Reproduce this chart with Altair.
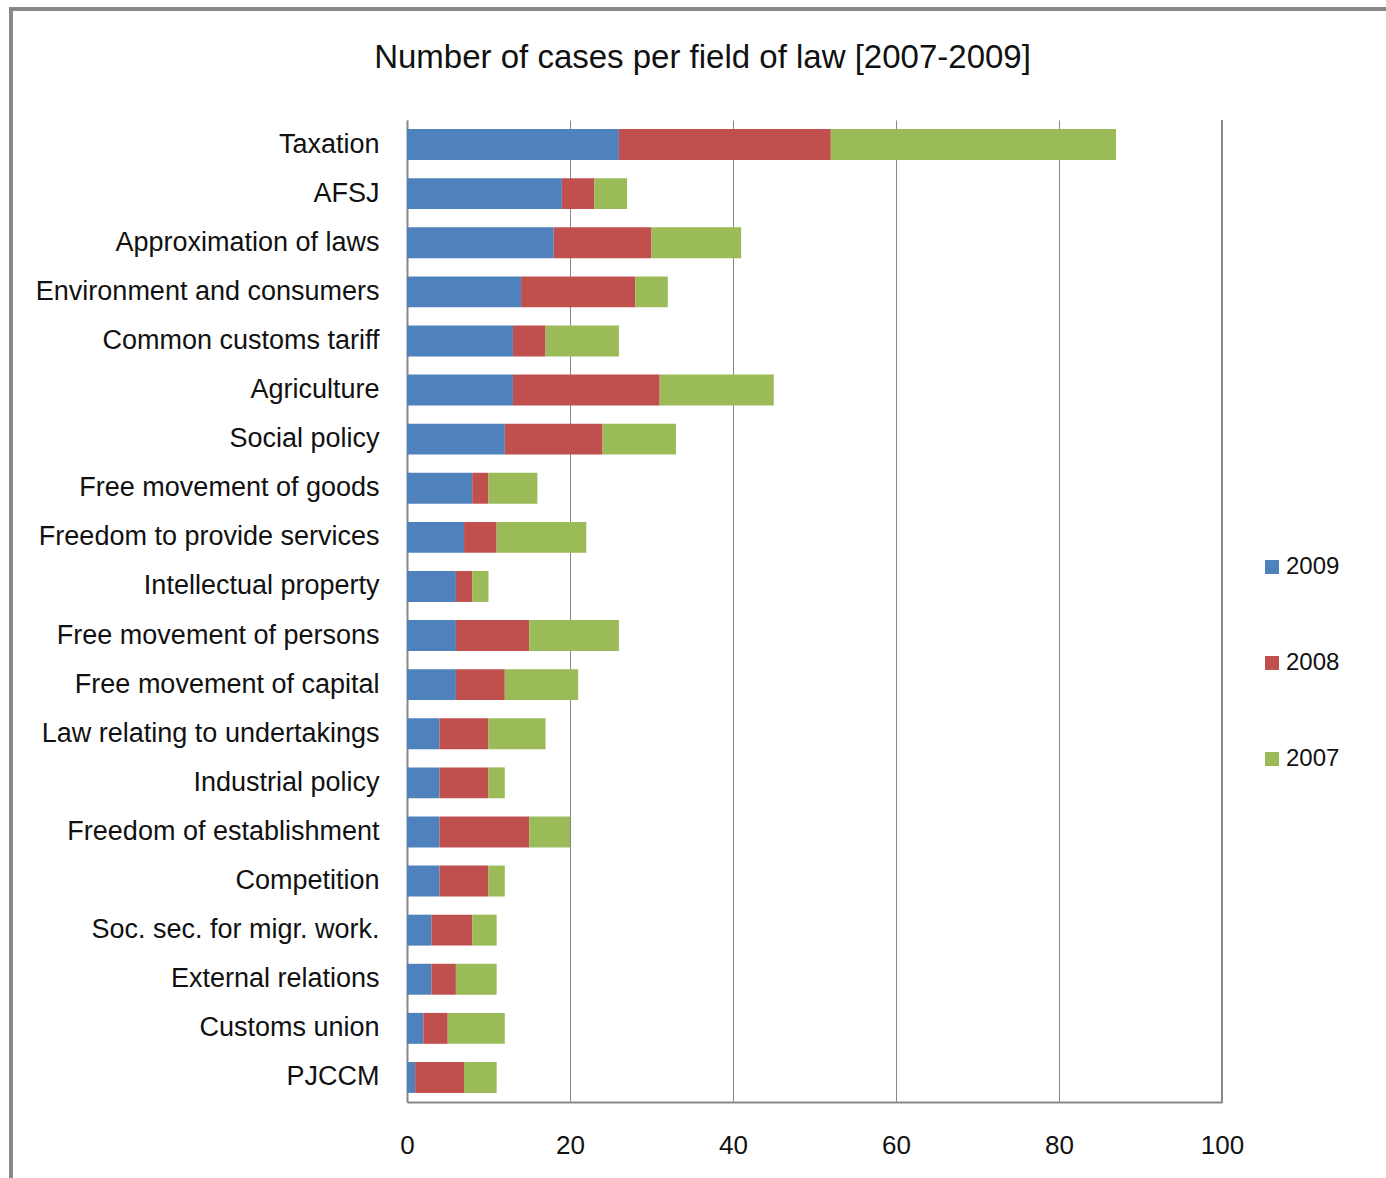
import altair as alt
import pandas as pd

categories = [
    "Taxation", "AFSJ", "Approximation of laws", "Environment and consumers",
    "Common customs tariff", "Agriculture", "Social policy", "Free movement of goods",
    "Freedom to provide services", "Intellectual property", "Free movement of persons",
    "Free movement of capital", "Law relating to undertakings", "Industrial policy",
    "Freedom of establishment", "Competition", "Soc. sec. for migr. work.",
    "External relations", "Customs union", "PJCCM",
]
v2009 = [26, 19, 18, 14, 13, 13, 12, 8, 7, 6, 6, 6, 4, 4, 4, 4, 3, 3, 2, 1]
v2008 = [26, 4, 12, 14, 4, 18, 12, 2, 4, 2, 9, 6, 6, 6, 11, 6, 5, 3, 3, 6]
v2007 = [35, 4, 11, 4, 9, 14, 9, 6, 11, 2, 11, 9, 7, 2, 5, 2, 3, 5, 7, 4]
years = ["2009", "2008", "2007"]
colors = ["#4F81BD", "#C0504D", "#9BBB59"]
x_ticks = [0, 20, 40, 60, 80, 100]

rows = []
for series, yr in zip([v2009, v2008, v2007], years):
    for c, v in zip(categories, series):
        rows.append({"field": c, "year": yr, "cases": v, "ord": years.index(yr)})
df = pd.DataFrame(rows)

FONT = "Liberation Sans"
GRAY = "#888888"

bars = alt.Chart(df).mark_bar().encode(
    y=alt.Y("field:N", sort=categories,
            scale=alt.Scale(paddingInner=0.37, paddingOuter=0.185),
            axis=alt.Axis(title=None, labelFontSize=27, labelFont=FONT, labelColor="#111111",
                          ticks=False, grid=False, labelPadding=28, domainColor=GRAY,
                          domainWidth=2, labelLimit=400)),
    x=alt.X("cases:Q", scale=alt.Scale(domain=[0, 100]),
            axis=alt.Axis(title=None, values=x_ticks, labelFontSize=26, labelFont=FONT,
                          labelColor="#111111", ticks=False, labelPadding=30,
                          labelFlush=False,
                          domainColor=GRAY, domainWidth=2, gridColor=GRAY, gridWidth=1,
                          gridOpacity=1)),
    color=alt.Color("year:N", sort=years,
                    scale=alt.Scale(domain=years, range=colors),
                    legend=alt.Legend(title=None, orient="none", legendX=853, legendY=435,
                                      symbolType="square", symbolSize=196,
                                      symbolStrokeWidth=0, labelFontSize=24, labelFont=FONT,
                                      labelColor="#111111", rowPadding=72, labelOffset=2)),
    order=alt.Order("ord:Q"),
)

frame_left = alt.Chart(df).mark_rule(color=GRAY, strokeWidth=3, clip=False).encode(
    x=alt.value(-396), y=alt.value(-112), y2=alt.value(1058)
)
frame_top = alt.Chart(df).mark_rule(color=GRAY, strokeWidth=3, clip=False).encode(
    x=alt.value(-398), x2=alt.value(979), y=alt.value(-111)
)
right_edge = alt.Chart(df).mark_rule(color=GRAY, strokeWidth=2).encode(
    x=alt.value(815), y=alt.value(0), y2=alt.value(982)
)

chart = alt.layer(bars, frame_left, frame_top, right_edge).properties(
    width=815, height=982,
    padding={"left": 407, "top": 120, "right": 164, "bottom": 76},
    autosize=alt.AutoSizeParams(type="none"),
    view=alt.ViewBackground(stroke="transparent", strokeWidth=0, strokeOpacity=0),
    title=alt.TitleParams("Number of cases per field of law [2007-2009]", fontSize=33,
                          font=FONT, fontWeight="normal", color="#111111",
                          anchor="middle", frame="group", dx=-112, offset=-94,
                          baseline="alphabetic"),
).configure_view(strokeOpacity=0, strokeWidth=0).configure(background="white")

chart.save("out.html", embed_options={"renderer": "svg", "actions": False})
